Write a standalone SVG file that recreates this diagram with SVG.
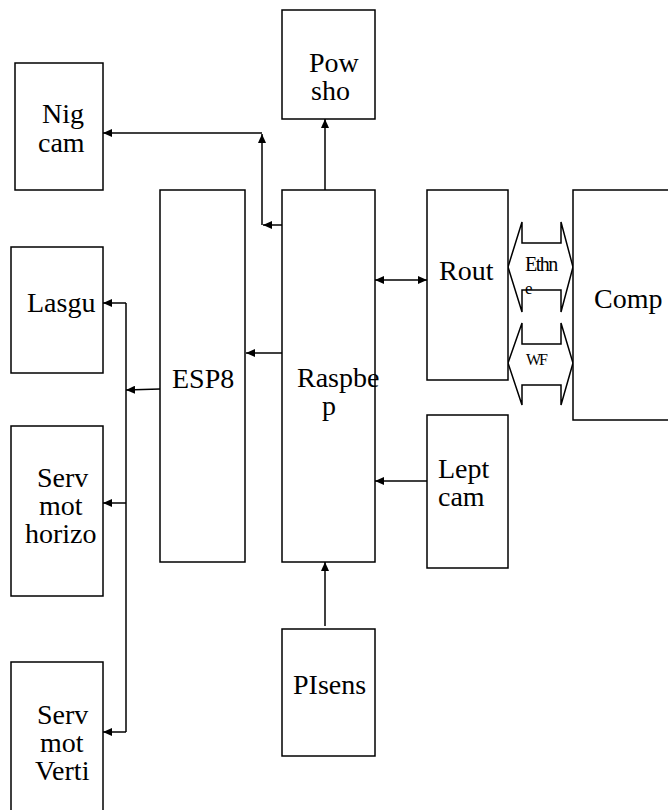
<svg xmlns="http://www.w3.org/2000/svg" width="668" height="810" viewBox="0 0 668 810">
<style>
.box{fill:#fff;stroke:#000;stroke-width:1.5}
text{font-family:'Liberation Serif','Times New Roman','DejaVu Serif',serif;fill:#000}
.t{font-size:28px}
.c{fill:none;stroke:#000;stroke-width:1.5}
.ba{fill:#fff;stroke:#000;stroke-width:1.5;stroke-linejoin:miter}
</style>
<defs>
<marker id="ah" markerUnits="userSpaceOnUse" markerWidth="10" markerHeight="8" refX="9" refY="4" orient="auto">
<path d="M0,0 L9,4 L0,8 z" fill="#000"/>
</marker>
<marker id="as" markerUnits="userSpaceOnUse" markerWidth="10" markerHeight="8" refX="0" refY="4" orient="auto">
<path d="M9,0 L0,4 L9,8 z" fill="#000"/>
</marker>
</defs>
<g id="connectors">
<line class="c" x1="282" y1="225" x2="263" y2="225" marker-end="url(#ah)"/>
<line class="c" x1="262" y1="225" x2="262" y2="134" marker-end="url(#ah)"/>
<polyline class="c" points="262,133 103,133" marker-end="url(#ah)"/>
<line class="c" x1="325" y1="190" x2="325" y2="119" marker-end="url(#ah)"/>
<line class="c" x1="282" y1="353" x2="246" y2="353" marker-end="url(#ah)"/>
<line class="c" x1="160" y1="389" x2="126" y2="390" marker-end="url(#ah)"/>
<line class="c" x1="126" y1="303" x2="126" y2="732"/>
<line class="c" x1="126" y1="303" x2="103" y2="303" marker-end="url(#ah)"/>
<line class="c" x1="126" y1="503" x2="103" y2="503" marker-end="url(#ah)"/>
<line class="c" x1="126" y1="732" x2="103" y2="732" marker-end="url(#ah)"/>
<line class="c" x1="375" y1="280" x2="427" y2="280" marker-start="url(#as)" marker-end="url(#ah)"/>
<line class="c" x1="427" y1="481" x2="375" y2="481" marker-end="url(#ah)"/>
<line class="c" x1="325" y1="626" x2="325" y2="562" marker-end="url(#ah)"/>
<g id="ethernet">
<polygon class="ba" points="508,267 522,222 522,243 561,243 561,222 573,267 561,312 561,290 522,290 522,312"/>
<text font-family="Liberation Serif, serif" font-size="20" x="525" y="271" letter-spacing="-1.5">Ethn</text>
<text font-family="Liberation Serif, serif" font-size="17" x="525" y="294">e</text>
</g>
<g id="wifi">
<polygon class="ba" points="508,363 522,323 522,344 561,344 561,323 573,363 561,405 561,385 522,385 522,405"/>
<text font-family="Liberation Serif, serif" font-size="16" x="526" y="365" letter-spacing="-2">WF</text>
</g>
</g>
<g id="nig-cam">
<rect class="box" x="15" y="63" width="88" height="127"/>
<text class="t" font-family="Liberation Serif, serif" x="42" y="123">Nig</text>
<text class="t" font-family="Liberation Serif, serif" x="38" y="152">cam</text>
</g>
<g id="pow-sho">
<rect class="box" x="282" y="10" width="93" height="109"/>
<text class="t" font-family="Liberation Serif, serif" x="309" y="72">Pow</text>
<text class="t" font-family="Liberation Serif, serif" x="311" y="100">sho</text>
</g>
<g id="esp8">
<rect class="box" x="160" y="190" width="85" height="372"/>
<text class="t" font-family="Liberation Serif, serif" x="172" y="388">ESP8</text>
</g>
<g id="raspberry">
<rect class="box" x="282" y="190" width="93" height="372"/>
<text class="t" font-family="Liberation Serif, serif" x="297" y="387">Raspbe</text>
<text class="t" font-family="Liberation Serif, serif" x="322" y="415">p</text>
</g>
<g id="router">
<rect class="box" x="427" y="190" width="81" height="190"/>
<text class="t" font-family="Liberation Serif, serif" x="439" y="280">Rout</text>
</g>
<g id="computer">
<rect class="box" x="573" y="190" width="110" height="230"/>
<text class="t" font-family="Liberation Serif, serif" x="594" y="308">Comp</text>
</g>
<g id="lept-cam">
<rect class="box" x="427" y="415" width="81" height="153"/>
<text class="t" font-family="Liberation Serif, serif" x="438" y="478">Lept</text>
<text class="t" font-family="Liberation Serif, serif" x="438" y="506">cam</text>
</g>
<g id="pisens">
<rect class="box" x="282" y="629" width="93" height="127"/>
<text class="t" font-family="Liberation Serif, serif" x="293" y="694">PIsens</text>
</g>
<g id="lasgu">
<rect class="box" x="11" y="247" width="92" height="126"/>
<text class="t" font-family="Liberation Serif, serif" x="27" y="312">Lasgu</text>
</g>
<g id="serv-horizo">
<rect class="box" x="11" y="426" width="92" height="170"/>
<text class="t" font-family="Liberation Serif, serif" x="37" y="487">Serv</text>
<text class="t" font-family="Liberation Serif, serif" x="39" y="515">mot</text>
<text class="t" font-family="Liberation Serif, serif" x="25" y="543">horizo</text>
</g>
<g id="serv-verti">
<rect class="box" x="11" y="662" width="92" height="160"/>
<text class="t" font-family="Liberation Serif, serif" x="37" y="724">Serv</text>
<text class="t" font-family="Liberation Serif, serif" x="40" y="752">mot</text>
<text class="t" font-family="Liberation Serif, serif" x="35" y="780">Verti</text>
</g>
</svg>
